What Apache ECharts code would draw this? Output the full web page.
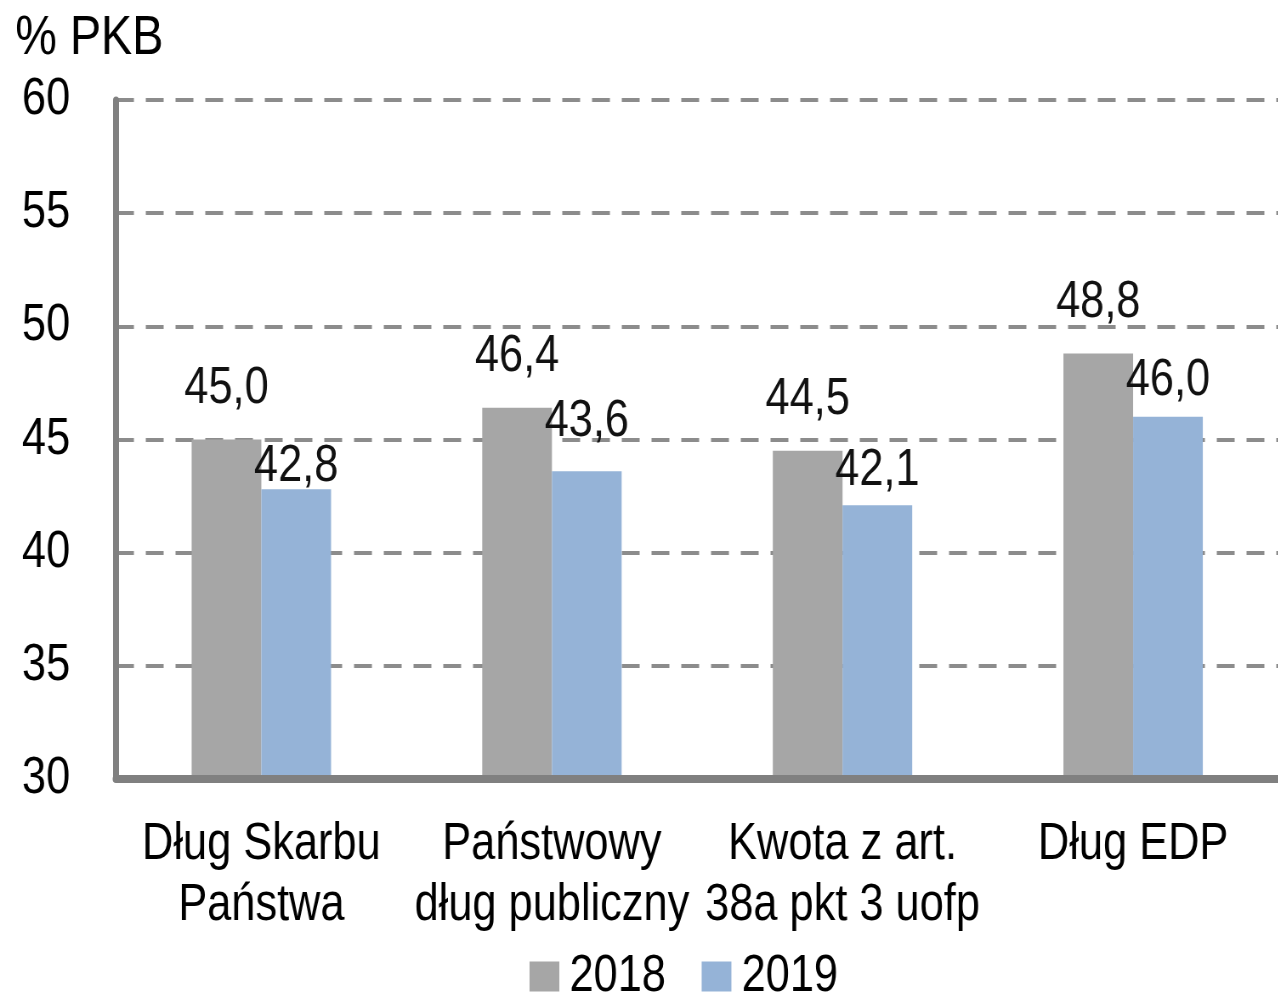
<!DOCTYPE html>
<html>
<head>
<meta charset="utf-8">
<style>
  html, body { margin: 0; padding: 0; background: #fff; overflow: hidden; }
  /* oryginal ma waskie, wysokie pismo - rysujemy szerzej i sciskamy w poziomie */
  #chart { width: 1504px; height: 995px; transform: scaleX(0.85); transform-origin: 0 0; }
</style>
<script src="https://cdn.jsdelivr.net/npm/echarts@6/dist/echarts.min.js"></script>
</head>
<body>
<div id="chart"></div>
<script>
// dane
const categories = ["Dług Skarbu\nPaństwa", "Państwowy\ndług publiczny", "Kwota z art.\n38a pkt 3 uofp", "Dług EDP"];
const years = ["2018", "2019"];
const values2018 = [45.0, 46.4, 44.5, 48.8];
const values2019 = [42.8, 43.6, 42.1, 46.0];
const yTicks = [30, 35, 40, 45, 50, 55, 60];

const FONT = "'Liberation Sans', Arial, sans-serif";
// etykiety 2019 sa przesuniete recznie jak w oryginale
const lift2019 = [0, 27, 12, 13];

const fmt = (v) => v.toFixed(1).replace(".", ",");

const chart = echarts.init(document.getElementById("chart"), null, { renderer: "canvas" });

chart.setOption({
  animation: false,
  title: {
    text: "% PKB",
    left: 18,
    top: 11,
    padding: 0,
    textStyle: { fontFamily: FONT, fontSize: 55, fontWeight: "normal", color: "#000" },
  },
  grid: { left: 136.5, top: 100, width: 1383.5, height: 679 },
  legend: {
    left: 623,
    top: 951,
    padding: 0,
    itemWidth: 35,
    itemHeight: 30,
    itemGap: 42,
    icon: "rect",
    textStyle: { fontFamily: FONT, fontSize: 51, color: "#000", lineHeight: 30, padding: [10, 0, 0, 7] },
    data: years,
  },
  xAxis: {
    type: "category",
    data: categories,
    z: 3,
    axisLine: { lineStyle: { color: "#808080", width: 8 } },
    axisTick: { show: false },
    axisLabel: {
      fontFamily: FONT,
      fontSize: 51,
      lineHeight: 61,
      color: "#000",
      margin: 35,
      interval: 0,
    },
  },
  yAxis: {
    type: "value",
    min: 30,
    max: 60,
    interval: 5,
    axisLine: { show: true, lineStyle: { color: "#808080", width: 7 } },
    axisTick: { show: false },
    axisLabel: {
      fontFamily: FONT,
      fontSize: 51,
      color: "#000",
      margin: 54,
      padding: [6, 0, 0, 0],
      formatter: (v) => (yTicks.includes(v) ? String(v) : ""),
    },
    splitLine: { lineStyle: { color: "#8c8c8c", width: 4, type: [21, 14] } },
  },
  series: [
    {
      name: years[0],
      type: "bar",
      data: values2018,
      barWidth: 82,
      barGap: "0%",
      itemStyle: { color: "#a6a6a6" },
      label: {
        show: true,
        position: "top",
        distance: 25,
        fontFamily: FONT,
        fontSize: 51,
        color: "#111",
        formatter: (p) => fmt(p.value),
      },
    },
    {
      name: years[1],
      type: "bar",
      data: values2019.map((v, i) => ({
        value: v,
        label: { distance: lift2019[i] - 3 },
      })),
      barWidth: 82,
      itemStyle: { color: "#95b3d7" },
      label: {
        show: true,
        position: "top",
        fontFamily: FONT,
        fontSize: 51,
        color: "#111",
        formatter: (p) => fmt(p.value),
      },
    },
  ],
});
</script>
</body>
</html>
